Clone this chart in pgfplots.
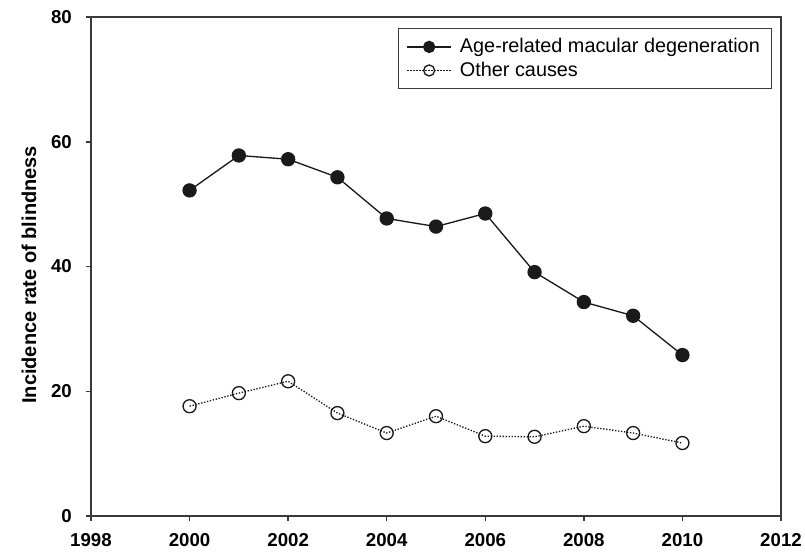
\documentclass[border=0pt]{standalone}
\usepackage{pgfplots}
\pgfplotsset{compat=1.18}
\usepackage{fontspec}
\setmainfont{Liberation Sans}
\setsansfont{Liberation Sans}

\definecolor{axisgray}{HTML}{3A3A3A}
\definecolor{ink}{HTML}{1A1A1A}

\begin{document}
\begin{tikzpicture}[x=0.6pt,y=0.6pt]
% fixed page: 805 x 556 px of the reference, 1 px = 0.6 pt
\useasboundingbox (0,0) rectangle (805,556);
\begin{axis}[
    at={(91*0.6pt,40*0.6pt)}, anchor=south west,
    scale only axis,
    width=690*0.6pt, height=499*0.6pt,
    xmin=1998, xmax=2012,
    ymin=0, ymax=80,
    xtick={1998,2000,...,2012},
    ytick={0,20,...,80},
    minor tick num=0,
    tick align=outside,
    major tick length=3pt,
    tick style={axisgray, line width=0.9pt},
    axis line style={axisgray, line width=0.9pt},
    xtick pos=bottom, ytick pos=left,
    /pgf/number format/assume math mode=true,
    /pgf/number format/1000 sep={},
    ticklabel style={font=\fontsize{11.2}{13}\selectfont\bfseries},
    xticklabel style={yshift=-4pt},
    yticklabel style={xshift=-5pt},
    ylabel={Incidence rate of blindness},
    ylabel style={font=\fontsize{12}{14}\selectfont\bfseries, yshift=2pt, xshift=-5pt},
    legend style={at={(0.987,0.978)}, anchor=north east,
        draw=axisgray, line width=0.6pt,
        font=\fontsize{11.9}{13.5}\selectfont,
        inner xsep=5pt, inner ysep=4pt,
        row sep=0pt,
        /tikz/every odd column/.append style={column sep=3pt}},
    legend cell align=left,
    legend image code/.code={
        \draw[mark repeat=2,mark phase=2,#1,mark size=3.3pt]
        plot coordinates {(0cm,0cm) (0.46cm,0cm) (0.92cm,0cm)};},
]
\addplot[ink, line width=0.8pt, mark=*, mark size=3.9pt,
    mark options={solid, fill=ink, draw=ink}]
coordinates {
    (2000,52.2) (2001,57.8) (2002,57.2) (2003,54.3) (2004,47.7)
    (2005,46.4) (2006,48.5) (2007,39.1) (2008,34.3) (2009,32.1) (2010,25.8)
};
\addplot[ink, line width=0.8pt, densely dotted, mark=o, mark size=3.9pt,
    mark options={solid, fill=white, draw=ink, line width=0.8pt}]
coordinates {
    (2000,17.6) (2001,19.7) (2002,21.6) (2003,16.5) (2004,13.3)
    (2005,16.0) (2006,12.8) (2007,12.7) (2008,14.4) (2009,13.3) (2010,11.7)
};
\legend{Age-related macular degeneration, Other causes}
\end{axis}
\end{tikzpicture}
\end{document}
